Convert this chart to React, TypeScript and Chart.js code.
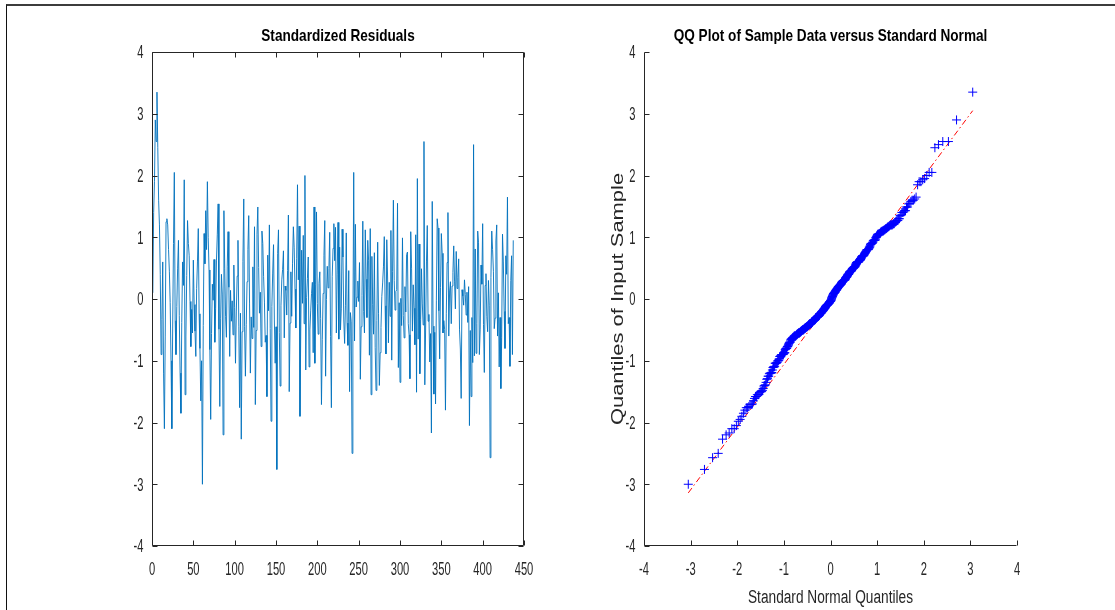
import React, { useEffect, useRef } from "react";
import { Chart, registerables } from "chart.js";

Chart.register(...registerables);

// ---------- data ----------
const residuals000 = [
  0.1, 1.4, 1.9, 2.9, 2.55, 3.35, 2.45, 1.6, 1.2, 0.4,
  -0.9, -0.33, 0.6, -1.2, -2.1, -0.6, 1.25, 1.3, 1.2, 0.8,
  0.45, -0.06, -1.0, -2.1, -0.47, 0.9, 2.05, -0.35, -0.9, -0.12,
  0.5, 0.95, -0.27, -1.2, -1.85, -0.38, 0.6, 0.22, 1.93, -1.55,
  -0.6, 0.38, 1.27, 0.9, 0.7, -0.04, -0.77, -0.17, -0.55, 0.63,
  -0.09, -0.52, -0.93, 0.17, 0.6, 1.14, -0.24, -0.8, -1.65, -1.0,
  -3.0, -0.43, 1.06, 0.57, 1.43, 0.8, 1.9, 1.0, 0.47, -0.82,
  -1.95, -0.56, 0.24, -0.02, 0.64, -0.7, -0.15, 0.63, 1.05, 1.54,
  -0.49, -1.74, -0.31, 0.4, 0.08, -2.2, 1.43, 0.5, -0.28, -0.62,
  0.52, 1.09, 0.19, -0.93, 0.14, -0.36, -0.03, -0.58, 0.55, -0.14,
];
const residuals100 = [
  -1.04, -0.21, 0.37, 0.95, -0.44, -1.76, -0.23, -2.27, -0.53, 0.61,
  1.62, -0.45, -1.25, -0.41, 0.28, 0.8, 1.35, -0.08, -1.2, -0.29,
  -0.64, 0.52, -0.46, 1.17, -1.71, -0.51, 1.05, 1.49, 0.51, -0.23,
  0.11, -0.77, 1.1, 0.9, 0.36, -0.05, -0.7, -0.59, -1.58, 0.71,
  -0.19, 1.2, -0.48, -1.98, -0.12, 0.42, 0.88, -0.34, -1.04, -0.45,
  -2.76, 0.74, 1.12, -0.54, -1.41, -0.11, 0.31, 0.48, 0.78, -0.63,
  0.21, 0.14, -0.26, 0.46, 1.36, -1.5, -0.39, 0.44, -0.28, 0.58,
  1.17, 0.84, 0.16, -0.47, 0.66, 1.85, 0.31, 1.18, -1.9, -0.42,
  0.79, -0.07, 1.03, -0.4, 2.0, -1.15, 0.02, 0.33, 0.68, -1.1,
  -0.5, -0.18, 0.09, 0.27, -0.87, 1.49, -1.04, 0.23, 1.41, -0.07,
];
const residuals200 = [
  -0.57, 0.25, 0.44, -0.32, -1.71, -0.66, 0.09, 0.7, 1.27, -1.25,
  -0.01, 0.53, 0.18, 0.49, 1.08, -0.61, -1.76, 0.36, 0.82, 1.22,
  0.62, 1.16, -0.55, 0.39, 1.24, -0.65, 0.84, -0.5, -0.16, 1.13,
  0.68, -0.34, -0.72, -0.1, 1.07, -0.39, -0.75, 0.46, -1.5, -0.22,
  -0.37, -2.5, -0.6, 2.05, -0.68, 1.21, -0.13, 0.03, 0.29, -0.04,
  0.59, -1.3, -0.45, 0.06, 1.26, -0.2, -0.55, 1.12, 0.32, -0.3,
  0.95, 0.63, -0.91, 1.14, -1.55, 0.69, -0.09, -0.57, 0.75, -0.79,
  -1.48, -0.35, 0.92, -0.23, -1.4, -0.87, -0.46, 0.04, 0.26, 0.52,
  1.01, -0.11, -0.89, 0.96, 0.34, -0.71, 0.27, -0.28, 1.11, -0.99,
  0.45, 1.6, 0.3, -0.18, 0.12, 0.15, 1.55, -1.11, -0.06, -1.35,
];
const residuals300 = [
  0.01, -0.43, 0.99, -0.27, -0.63, 0.2, -0.21, 0.72, 0.76, -0.4,
  -0.58, -1.29, 1.09, 0.5, -0.52, 0.23, -0.15, -0.74, 1.04, -1.51,
  1.95, -0.65, 0.89, -1.21, -0.33, 0.49, -0.08, -0.42, 2.55, -1.39,
  -0.47, 0.6, 1.19, -0.36, -0.25, -1.02, -0.56, -2.17, 1.58, -0.44,
  -1.54, -0.54, -1.7, -0.03, 1.3, 1.15, -0.19, -0.97, 0.19, 1.06,
  0.74, -0.55, -0.35, -0.49, -1.8, -0.24, 0.59, 1.4, -0.6, 0.13,
  0.28, -0.4, 0.21, 0.43, 0.86, 0.29, -0.16, 0.77, 0.17, 0.35,
  0.65, -0.5, -0.81, -1.61, 0.15, 0.05, -0.1, 0.31, 0.07, -0.26,
  0.11, -0.38, 0.2, -2.05, -0.51, -1.58, -0.3, -1.03, 2.5, -0.92,
  0.81, -0.88, -0.4, 1.1, 0.91, -0.9, -0.5, 0.55, 0.24, 1.22,
];
const residuals400 = [
  -0.41, -1.19, 0.22, 0.41, -0.28, -0.53, 0.3, -0.1, -2.57, 0.35,
  1.1, 0.8, 0.45, -0.48, -0.31, 0.94, 1.2, -0.6, 0.1, -1.1,
  -0.3, -1.45, -0.62, 1.05, 0.6, -0.2, -0.8, 0.7, 0.4, 1.65,
  -0.4, -0.3, -1.09, 0.3, 0.7, -0.9, 0.95,
];

const qqLineX = [-3.05, 3.05];
const qqLineY = [-3.14, 3.05];

const residualTicksX = [0, 50, 100, 150, 200, 250, 300, 350, 400, 450];
const valueTicks = [-4, -3, -2, -1, 0, 1, 2, 3, 4];
const quantileTicks = [-4, -3, -2, -1, 0, 1, 2, 3, 4];

const titleLeft = "Standardized Residuals";
const titleRight = "QQ Plot of Sample Data versus Standard Normal";
const xLabelRight = "Standard Normal Quantiles";
const yLabelRight = "Quantiles of Input Sample";

// ---------- helpers ----------
const residuals = [...residuals000, ...residuals100, ...residuals200, ...residuals300, ...residuals400];

function normInv(p: number): number {
  const a = [-3.969683028665376e1, 2.209460984245205e2, -2.759285104469687e2, 1.38357751867269e2, -3.066479806614716e1, 2.506628277459239];
  const b = [-5.447609879822406e1, 1.615858368580409e2, -1.556989798598866e2, 6.680131188771972e1, -1.328068155288572e1];
  const c = [-7.784894002430293e-3, -3.223964580411365e-1, -2.400758277161838, -2.549732539343734, 4.374664141464968, 2.938163982698783];
  const d = [7.784695709041462e-3, 3.224671290700398e-1, 2.445134137142996, 3.754408661907416];
  const pl = 0.02425;
  if (p < pl) {
    const q = Math.sqrt(-2 * Math.log(p));
    return (((((c[0] * q + c[1]) * q + c[2]) * q + c[3]) * q + c[4]) * q + c[5]) / ((((d[0] * q + d[1]) * q + d[2]) * q + d[3]) * q + 1);
  }
  if (p <= 1 - pl) {
    const q = p - 0.5;
    const r = q * q;
    return ((((((a[0] * r + a[1]) * r + a[2]) * r + a[3]) * r + a[4]) * r + a[5]) * q) / (((((b[0] * r + b[1]) * r + b[2]) * r + b[3]) * r + b[4]) * r + 1);
  }
  const q = Math.sqrt(-2 * Math.log(1 - p));
  return -(((((c[0] * q + c[1]) * q + c[2]) * q + c[3]) * q + c[4]) * q + c[5]) / ((((d[0] * q + d[1]) * q + d[2]) * q + d[3]) * q + 1);
}

const SANS = "'Liberation Sans', Arial, Helvetica, sans-serif";
const AXIS_COLOR = "#262626";

function tickValues(values: number[]) {
  return (scale: any) => {
    scale.ticks = values.map((v) => ({ value: v }));
  };
}

function drawText(
  ctx: CanvasRenderingContext2D,
  text: string,
  x: number,
  y: number,
  font: string,
  sx: number,
  align: CanvasTextAlign,
  color: string,
  rotate = 0
) {
  ctx.save();
  ctx.translate(x, y);
  if (rotate) ctx.rotate(rotate);
  ctx.scale(sx, 1);
  ctx.font = font;
  ctx.fillStyle = color;
  ctx.textAlign = align;
  ctx.textBaseline = "alphabetic";
  ctx.fillText(text, 0, 0);
  ctx.restore();
}

const TICK_FONT = `18px ${SANS}`;
const TICK_SX = 0.62;

const matlabAxes = {
  id: "matlabAxes",
  afterDraw(chart: any, _args: any, opts: any) {
    const { ctx, chartArea: a } = chart;
    const xs = chart.scales.x;
    const ys = chart.scales.y;
    const L = 5;
    ctx.save();
    ctx.strokeStyle = AXIS_COLOR;
    ctx.lineWidth = 1;
    ctx.beginPath();
    const left = Math.round(a.left) + 0.5;
    const right = Math.round(a.right) - 0.5;
    const top = Math.round(a.top) + 0.5;
    const bottom = Math.round(a.bottom) - 0.5;
    ctx.moveTo(left, top);
    ctx.lineTo(left, bottom);
    ctx.lineTo(right, bottom);
    if (opts.box) {
      ctx.lineTo(right, top);
      ctx.lineTo(left, top);
    }
    xs.ticks.forEach((t: any) => {
      const px = Math.round(xs.getPixelForValue(t.value)) + 0.5;
      ctx.moveTo(px, bottom);
      ctx.lineTo(px, bottom - L);
      if (opts.box) {
        ctx.moveTo(px, top);
        ctx.lineTo(px, top + L);
      }
    });
    ys.ticks.forEach((t: any) => {
      const py = Math.round(ys.getPixelForValue(t.value)) + 0.5;
      ctx.moveTo(left, py);
      ctx.lineTo(left + L, py);
      if (opts.box) {
        ctx.moveTo(right, py);
        ctx.lineTo(right - L, py);
      }
    });
    ctx.stroke();
    ctx.restore();

    // tick labels
    xs.ticks.forEach((t: any) => {
      const px = xs.getPixelForValue(t.value);
      drawText(ctx, String(t.label), px, a.bottom + 29, TICK_FONT, TICK_SX, "center", AXIS_COLOR);
    });
    ys.ticks.forEach((t: any) => {
      const py = ys.getPixelForValue(t.value);
      drawText(ctx, String(t.label), a.left - 8.5, py + 6.4, TICK_FONT, TICK_SX, "right", AXIS_COLOR);
    });

    // title
    drawText(ctx, opts.title, (a.left + a.right) / 2, a.top - 11, `bold 17px ${SANS}`, 0.8, "center", "#000");

    // axis labels
    if (opts.xLabel) {
      drawText(ctx, opts.xLabel, (a.left + a.right) / 2, a.bottom + 57, `18px ${SANS}`, 0.76, "center", AXIS_COLOR);
    }
    if (opts.yLabel) {
      drawText(ctx, opts.yLabel, a.left - 21, (a.top + a.bottom) / 2, `16px ${SANS}`, 1.37, "center", AXIS_COLOR, -Math.PI / 2);
    }
  },
};

const hiddenTicks = { display: false };

function ResidualChart() {
  const ref = useRef<HTMLCanvasElement>(null);
  useEffect(() => {
    const chart = new Chart(ref.current as HTMLCanvasElement, {
      type: "line",
      data: {
        datasets: [
          {
            data: residuals.map((v, i) => ({ x: i + 1, y: v })),
            borderColor: "#0072BD",
            borderWidth: 0.9,
            pointRadius: 0,
            tension: 0,
            fill: false,
          },
        ],
      },
      options: {
        animation: false,
        responsive: false,
        events: [],
        layout: { padding: { left: 0, right: 36, top: 52, bottom: 0 } },
        plugins: {
          legend: { display: false },
          tooltip: { enabled: false },
          title: { display: false },
          matlabAxes: { box: true, title: titleLeft },
        } as any,
        scales: {
          x: {
            type: "linear",
            min: 0,
            max: 450,
            afterBuildTicks: tickValues(residualTicksX),
            afterFit: (s: any) => { s.height = 64; },
            grid: { display: false, drawTicks: false },
            border: { display: false },
            ticks: hiddenTicks,
          },
          y: {
            type: "linear",
            min: -4,
            max: 4,
            afterBuildTicks: tickValues(valueTicks),
            afterFit: (s: any) => { s.width = 152; },
            grid: { display: false, drawTicks: false },
            border: { display: false },
            ticks: hiddenTicks,
          },
        },
      },
      plugins: [matlabAxes as any],
    });
    return () => chart.destroy();
  }, []);
  return <canvas ref={ref} width={560} height={610} style={{ position: "absolute", left: 0, top: 0 }} />;
}

function QQChart() {
  const ref = useRef<HTMLCanvasElement>(null);
  useEffect(() => {
    const sorted = [...residuals].sort((a, b) => a - b);
    const n = sorted.length;
    const points = sorted.map((v, i) => ({ x: normInv((i + 0.5) / n), y: v }));
    const line = qqLineX.map((x, i) => ({ x, y: qqLineY[i] }));
    const chart = new Chart(ref.current as HTMLCanvasElement, {
      type: "scatter",
      data: {
        datasets: [
          {
            data: points,
            pointStyle: "cross",
            pointRadius: 4.5,
            borderColor: "#0000FF",
            backgroundColor: "#0000FF",
            borderWidth: 1,
            showLine: false,
          },
          {
            data: line,
            showLine: true,
            borderColor: "#FF0000",
            borderWidth: 1,
            borderDash: [6, 3, 1.5, 3],
            pointRadius: 0,
          },
        ],
      },
      options: {
        animation: false,
        responsive: false,
        events: [],
        layout: { padding: { left: 0, right: 98, top: 52, bottom: 0 } },
        plugins: {
          legend: { display: false },
          tooltip: { enabled: false },
          title: { display: false },
          matlabAxes: { box: false, title: titleRight, xLabel: xLabelRight, yLabel: yLabelRight },
        } as any,
        scales: {
          x: {
            type: "linear",
            min: -4,
            max: 4,
            afterBuildTicks: tickValues(quantileTicks),
            afterFit: (s: any) => { s.height = 64; },
            grid: { display: false, drawTicks: false },
            border: { display: false },
            ticks: hiddenTicks,
          },
          y: {
            type: "linear",
            min: -4,
            max: 4,
            afterBuildTicks: tickValues(valueTicks),
            afterFit: (s: any) => { s.width = 84; },
            grid: { display: false, drawTicks: false },
            border: { display: false },
            ticks: hiddenTicks,
          },
        },
      },
      plugins: [matlabAxes as any],
    });
    return () => chart.destroy();
  }, []);
  return <canvas ref={ref} width={555} height={610} style={{ position: "absolute", left: 560, top: 0 }} />;
}

export default function App() {
  return (
    <div style={{ position: "absolute", left: 0, top: 0, width: 1115, height: 610, background: "#fff", overflow: "hidden" }}>
      <ResidualChart />
      <QQChart />
      <div
        style={{
          position: "absolute",
          left: 6,
          top: 4,
          width: 1115,
          height: 620,
          borderTop: "2px solid #3c3c3c",
          borderLeft: "1px solid #111",
          boxSizing: "border-box",
          pointerEvents: "none",
        }}
      />
    </div>
  );
}
